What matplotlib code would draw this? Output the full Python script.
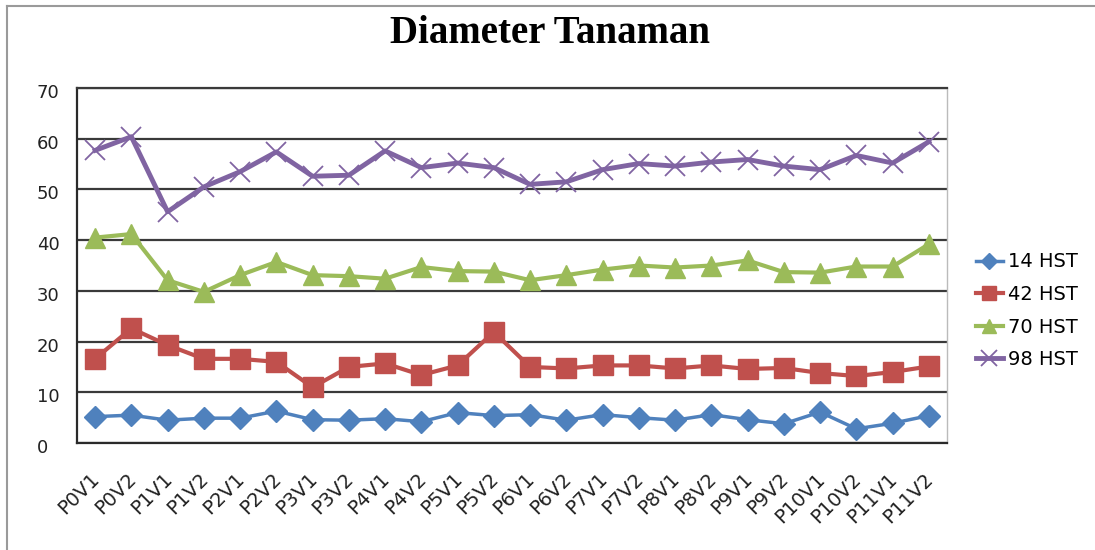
import numpy as np
import matplotlib
matplotlib.use("Agg")
import matplotlib.pyplot as plt
from matplotlib.transforms import ScaledTranslation
from matplotlib.lines import Line2D

# Categories
labels = ["P0V1", "P0V2", "P1V1", "P1V2", "P2V1", "P2V2", "P3V1", "P3V2",
          "P4V1", "P4V2", "P5V1", "P5V2", "P6V1", "P6V2", "P7V1", "P7V2",
          "P8V1", "P8V2", "P9V1", "P9V2", "P10V1", "P10V2", "P11V1", "P11V2"]

# Series values
hst14 = [5.2, 5.5, 4.5, 4.9, 4.9, 6.3, 4.6, 4.5, 4.8, 4.2, 6.0, 5.4,
         5.6, 4.5, 5.6, 5.0, 4.5, 5.6, 4.6, 3.8, 6.1, 2.8, 3.9, 5.4]
hst42 = [16.6, 22.6, 19.3, 16.6, 16.6, 16.0, 11.0, 15.0, 15.7, 13.4, 15.3, 21.9,
         15.0, 14.7, 15.3, 15.3, 14.7, 15.3, 14.6, 14.8, 13.8, 13.2, 14.0, 15.1]
hst70 = [40.5, 41.2, 32.1, 29.8, 33.1, 35.7, 33.1, 32.9, 32.4, 34.7, 33.9, 33.8,
         32.1, 33.1, 34.2, 35.0, 34.6, 35.0, 36.0, 33.7, 33.6, 34.8, 34.8, 39.2]
hst98 = [57.7, 60.4, 45.6, 50.5, 53.5, 57.4, 52.6, 52.8, 57.6, 54.3, 55.2, 54.3,
         51.0, 51.5, 53.9, 55.1, 54.6, 55.4, 55.9, 54.6, 53.9, 56.7, 55.2, 59.4]

x = np.arange(len(labels))

plt.rcParams['font.family'] = ['DejaVu Sans']

fig = plt.figure(figsize=(10.95, 5.5), dpi=100)
ax = fig.add_axes([0.0703, 0.1945, 0.7945, 0.6455])

# chart-area border (only top and left edges are visible in the reference)
fig.add_artist(Line2D([6.5 / 1095, 1], [1 - 6 / 550, 1 - 6 / 550],
                      color='#9a9a9a', lw=1.5, transform=fig.transFigure))
fig.add_artist(Line2D([6.5 / 1095, 6.5 / 1095], [0, 1 - 6 / 550],
                      color='#9a9a9a', lw=1.5, transform=fig.transFigure))

# Series
ax.plot(x, hst14, color='#4F81BD', lw=2.5, marker='D', ms=11, label='14 HST')
ax.plot(x, hst42, color='#C0504D', lw=3, marker='s', ms=14, label='42 HST')
ax.plot(x, hst70, color='#9BBB59', lw=3, marker='^', ms=14, label='70 HST')
ax.plot(x, hst98, color='#8064A2', lw=3.5, marker='x', ms=15, mew=1.3,
        label='98 HST')

ax.set_xlim(-0.5, len(labels) - 0.5)
ax.set_ylim(0, 70)
ax.set_yticks(range(0, 71, 10))
ax.yaxis.grid(True, color='#3a3a3a', lw=1.6)
ax.set_axisbelow(True)

ax.set_xticks(x)
ax.set_xticklabels(labels, rotation=45, ha='right', rotation_mode='anchor')
ax.tick_params(axis='both', length=0, colors='#222222')
ax.tick_params(axis='x', pad=19, labelsize=14)
ax.tick_params(axis='y', pad=29, labelsize=13)

# x labels a little to the left, y labels left aligned and slightly lower
for t in ax.get_xticklabels():
    t.set_transform(t.get_transform() +
                    ScaledTranslation(-5 / 100, 0, fig.dpi_scale_trans))
for t in ax.get_yticklabels():
    t.set_ha('left')
    t.set_transform(t.get_transform() +
                    ScaledTranslation(0, -3 / 100, fig.dpi_scale_trans))

for s in ['left', 'bottom']:
    ax.spines[s].set_color('#2a2a2a')
    ax.spines[s].set_linewidth(1.6)
ax.spines['top'].set_color('#3a3a3a')
ax.spines['top'].set_linewidth(1.6)
ax.spines['right'].set_color('#bbbbbb')
ax.spines['right'].set_linewidth(1)

fig.text(0.502, 1 - 43 / 550, 'Diameter Tanaman', ha='center', va='baseline',
         fontsize=28, fontweight='bold', family='Liberation Serif')

ax.legend(loc='center left', bbox_to_anchor=(0.891, 0.435),
          bbox_transform=fig.transFigure, frameon=False, borderpad=0,
          borderaxespad=0, fontsize=14, handlelength=1.4, labelspacing=0.7,
          handletextpad=0.25, markerscale=0.75)

fig.savefig('out.png', dpi=100)
